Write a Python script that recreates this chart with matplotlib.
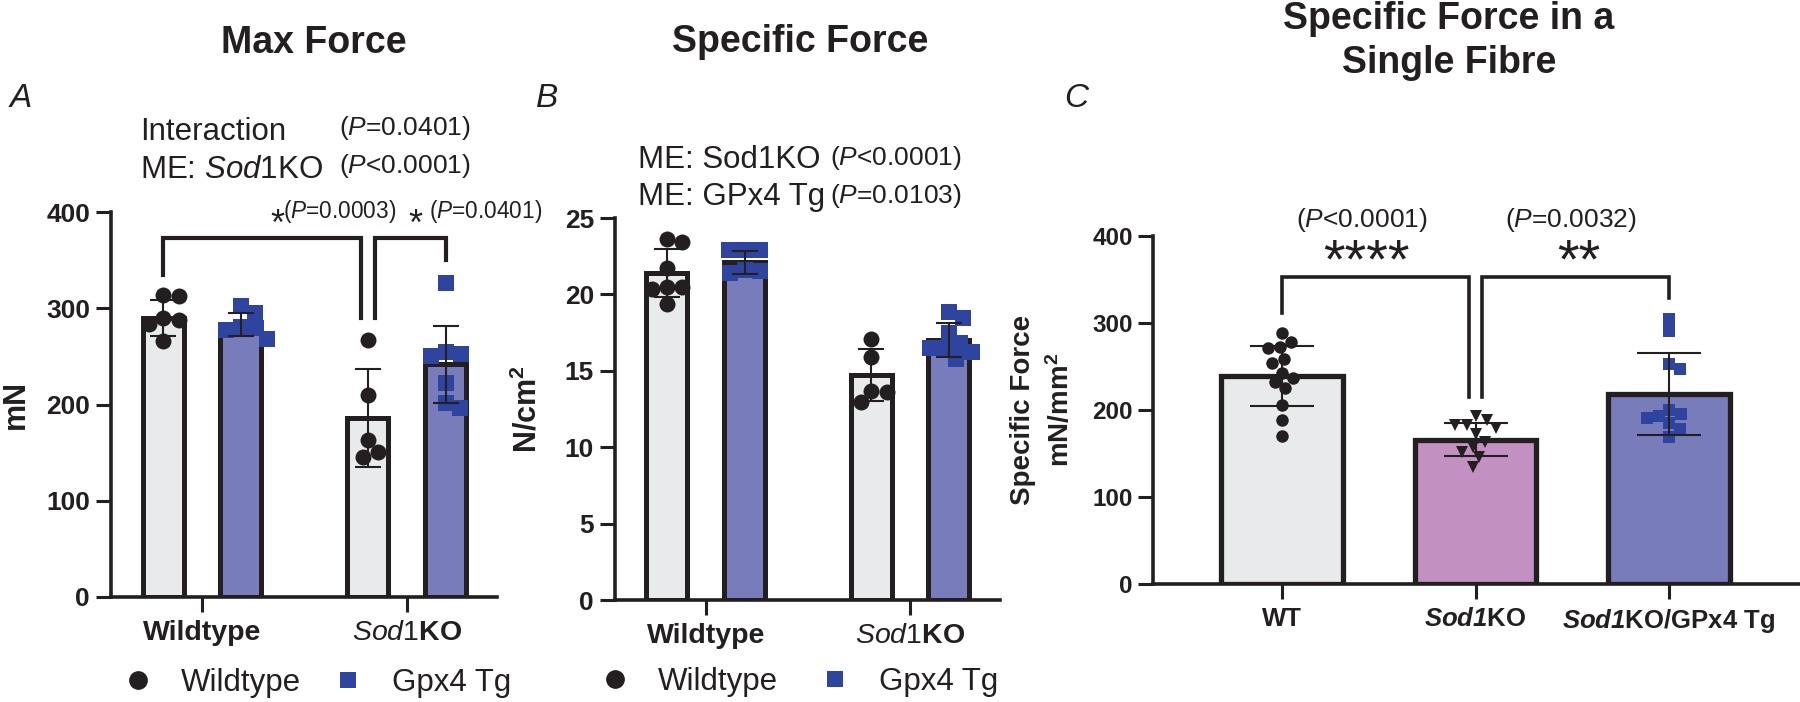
import numpy as np
import matplotlib.pyplot as plt
from matplotlib.lines import Line2D

plt.rcParams['font.family'] = ['Liberation Sans', 'DejaVu Sans']
plt.rcParams['mathtext.fontset'] = 'custom'
plt.rcParams['mathtext.rm'] = 'Liberation Sans'
plt.rcParams['mathtext.it'] = 'Liberation Sans:italic'
plt.rcParams['mathtext.bf'] = 'Liberation Sans:bold'
plt.rcParams['mathtext.bfit'] = 'Liberation Sans:italic:bold'

# ---- data ----
groups = ['Wildtype', r'$\mathit{Sod1}\mathbf{KO}$']
genotypes = ['Wildtype', 'Gpx4 Tg']

# A: max force, mN
max_wt_mean = [290, 186]
max_wt_sd = [19, 51]
max_gpx_mean = [283, 242]
max_gpx_sd = [12, 40]
max_wt_pts = [[314, 313, 290, 288, 284, 266], [267, 210, 163, 151, 145]]
max_gpx_pts = [[302, 295, 281, 279, 277, 268], [326, 255, 252, 250, 222, 202, 196]]
max_brackets = [(335, 373, 290), (290, 373, 350)]

# B: specific force, N/cm2
spec_wt_mean = [21.4, 14.7]
spec_wt_sd = [1.6, 1.7]
spec_gpx_mean = [22.1, 17.0]
spec_gpx_sd = [0.75, 1.1]
spec_wt_pts = [[23.6, 23.4, 21.7, 20.5, 20.5, 20.35, 19.4], [17.1, 15.9, 13.7, 13.6, 12.95]]
spec_gpx_pts = [[22.9, 22.9, 22.9, 21.6, 21.5, 21.4],
                [18.85, 18.45, 17.5, 16.8, 16.5, 16.5, 16.2, 15.8]]

# C: single fibre specific force, mN/mm2
fibre_labels = ['WT', r'$\mathbfit{Sod1}$KO', r'$\mathbfit{Sod1}$KO/GPx4 Tg']
fibre_mean = [239, 166, 218]
fibre_sd = [34.5, 18.5, 47]
fibre_pts = [[288, 278, 272, 271, 259, 254, 243, 237, 232, 225, 206, 189, 170],
             [193, 188, 183, 183, 179, 172, 163, 158, 152, 146, 134],
             [305, 291, 253, 247, 200, 195, 193, 191, 185, 178, 169]]
fibre_brackets = [(311, 353, 215), (215, 353, 329)]

INK = '#231f20'
GRAY = '#e9eaec'
PURPLE = '#797cba'
PINK = '#c291c1'
BLUE = '#2e449f'

W, H = 1800, 702
fig = plt.figure(figsize=(W / 100, H / 100), dpi=100)
fig.patch.set_facecolor('white')


def txt(x, y, s, **kw):
    return fig.text(x / W, 1 - y / H, s, color=INK, **kw)


def axes_px(l, t, r, b):
    return fig.add_axes([l / W, 1 - b / H, (r - l) / W, (b - t) / H])


def style(ax):
    ax.spines[['top', 'right']].set_visible(False)
    ax.spines[['left', 'bottom']].set_linewidth(2.6)
    ax.spines[['left', 'bottom']].set_color(INK)
    ax.tick_params(length=10.8, width=2.2, color=INK, labelcolor=INK)
    ax.tick_params(axis='y', pad=4.3)
    ax.tick_params(axis='x', pad=6)


def swarm(ax, xc, vals, size_px):
    # simple beeswarm in pixel space so markers don't overlap
    tr = ax.transData
    px = tr.transform(np.column_stack([np.full(len(vals), xc), vals]))
    x0, ys = px[0, 0], px[:, 1]
    steps = np.arange(0.5, 6 * size_px, 0.5)
    cands = np.concatenate([[0], np.column_stack([steps, -steps]).ravel()])
    placed, out = [], np.zeros(len(vals))
    for i in np.argsort(-np.asarray(vals)):
        for dx in cands:
            if all((dx - a) ** 2 + (ys[i] - b) ** 2 >= (0.95 * size_px) ** 2 for a, b in placed):
                break
        placed.append((dx, ys[i]))
        out[i] = x0 + dx
    return tr.inverted().transform(np.column_stack([out, ys]))[:, 0]


def dots(ax, xc, vals, marker, color, ms):
    xs = swarm(ax, xc, vals, ms * 100 / 72)
    ax.plot(xs, vals, ls='none', marker=marker, color=color, ms=ms, mew=0, zorder=3, clip_on=False)


def bracket(ax, x0, x1, ys, lw):
    y0, ytop, y1 = ys
    ax.plot([x0, x0, x1, x1], [y0, ytop, ytop, y1], color=INK, lw=lw,
            solid_joinstyle='miter', zorder=5, clip_on=False)


def grouped(ax, wt_mean, wt_sd, wt_pts, gpx_mean, gpx_sd, gpx_pts, top, step):
    x = np.arange(len(groups))
    ax.set_xlim(-0.444, 1.44)
    ax.set_ylim(0, top)
    style(ax)
    sets = [(-0.19, wt_mean, wt_sd, wt_pts, GRAY, 'o', INK),
            (0.19, gpx_mean, gpx_sd, gpx_pts, PURPLE, 's', BLUE)]
    for shift, mean, sd, pts, fill, mk, mc in sets:
        ax.bar(x + shift, mean, 0.2, color=fill, edgecolor=INK, linewidth=3.6, zorder=2)
        for xi, p in zip(x + shift, pts):
            dots(ax, xi, p, mk, mc, 11.5)
        ax.errorbar(x + shift, mean, yerr=sd, fmt='none', ecolor=INK, elinewidth=1.5,
                    capsize=9.5, capthick=1.5, zorder=4)
    ax.set_xticks(x, groups, fontsize=20.5, fontweight='bold')
    yt = np.arange(0, top + step / 2, step)
    ax.set_yticks(yt, [f'{v:g}' for v in yt], fontsize=19, fontweight='bold')


def legend(ax, x, y, colsp):
    handles = [Line2D([], [], ls='none', marker='o', color=INK, ms=13.5, mew=0),
               Line2D([], [], ls='none', marker='s', color=BLUE, ms=11, mew=0)]
    leg = ax.legend(handles, genotypes, ncol=2, frameon=False, fontsize=22.5, loc='center left',
                    bbox_to_anchor=(x / W, 1 - y / H), bbox_transform=fig.transFigure,
                    handlelength=0.8, handletextpad=1.0, columnspacing=colsp,
                    borderpad=0, borderaxespad=0)
    for t in leg.get_texts():
        t.set_color(INK)


# ---- A: Max Force ----
axA = axes_px(111, 212, 497, 597)
grouped(axA, max_wt_mean, max_wt_sd, max_wt_pts, max_gpx_mean, max_gpx_sd, max_gpx_pts, 400, 100)
gap = 0.034
bracket(axA, -0.19, 1 - 0.19 - gap, max_brackets[0], 3)
bracket(axA, 1 - 0.19 + gap, 1 + 0.19, max_brackets[1], 3)
legend(axA, 125, 683, 1.1)

txt(314, 53, 'Max Force', fontsize=27, fontweight='bold', ha='center', va='baseline')
txt(10, 107, 'A', fontsize=24, style='italic', ha='left', va='baseline')
txt(140, 140, 'Interaction', fontsize=22.5, ha='left', va='baseline')
txt(140, 178, r'ME: $\mathit{Sod1}$KO', fontsize=22.5, ha='left', va='baseline')
txt(339, 135, r'($\mathit{P}$=0.0401)', fontsize=19, ha='left', va='baseline')
txt(339, 173, r'($\mathit{P}$<0.0001)', fontsize=19, ha='left', va='baseline')
txt(270, 235, '*', fontsize=26, ha='left', va='baseline')
txt(283, 218, r'($\mathit{P}$=0.0003)', fontsize=16.3, ha='left', va='baseline')
txt(408, 235, '*', fontsize=26, ha='left', va='baseline')
txt(429, 218, r'($\mathit{P}$=0.0401)', fontsize=16.3, ha='left', va='baseline')
txt(16, 405, 'mN', fontsize=22, fontweight='bold', rotation=90, ha='center', va='center')

# ---- B: Specific Force ----
axB = axes_px(615, 218, 1000, 600)
grouped(axB, spec_wt_mean, spec_wt_sd, spec_wt_pts, spec_gpx_mean, spec_gpx_sd, spec_gpx_pts, 25, 5)
legend(axB, 602, 682, 1.42)

txt(800, 52, 'Specific Force', fontsize=27, fontweight='bold', ha='center', va='baseline')
txt(536, 107, 'B', fontsize=24, style='italic', ha='left', va='baseline')
txt(638, 168, 'ME: Sod1KO', fontsize=22.5, ha='left', va='baseline')
txt(638, 205, 'ME: GPx4 Tg', fontsize=22.5, ha='left', va='baseline')
txt(830, 165, r'($\mathit{P}$<0.0001)', fontsize=19, ha='left', va='baseline')
txt(830, 203, r'($\mathit{P}$=0.0103)', fontsize=19, ha='left', va='baseline')
txt(528, 409, r'N/cm$^{\mathbf{2}}$', fontsize=22, fontweight='bold', rotation=90, ha='center', va='center')

# ---- C: Specific force in a single fibre ----
axC = axes_px(1153, 236, 1800, 584)
axC.set_xlim(-0.667, 2.677)
axC.set_ylim(0, 400)
style(axC)
axC.tick_params(axis='y', pad=3.6)
xc = np.arange(len(fibre_labels))
axC.bar(xc, fibre_mean, 0.63, color=[GRAY, PINK, PURPLE], edgecolor=INK, linewidth=3.8, zorder=2)
for xi, p, mk, mc in zip(xc, fibre_pts, ['o', 'v', 's'], [INK, INK, BLUE]):
    dots(axC, xi, p, mk, mc, 9)
axC.errorbar(xc, fibre_mean, yerr=fibre_sd, fmt='none', ecolor=INK, elinewidth=1.5,
             capsize=23, capthick=1.5, zorder=4)
axC.set_xticks(xc, fibre_labels, fontsize=18.5, fontweight='bold')
axC.set_yticks(np.arange(0, 401, 100), ['0', '100', '200', '300', '400'], fontsize=17.5, fontweight='bold')
gapc = 0.036
bracket(axC, 0, 1 - gapc, fibre_brackets[0], 2.6)
bracket(axC, 1 + gapc, 2, fibre_brackets[1], 2.6)

txt(1449, 73, 'Specific Force in a\nSingle Fibre', fontsize=27, fontweight='bold',
    ha='center', va='baseline', linespacing=1.28)
txt(1064, 107, 'C', fontsize=24, style='italic', ha='left', va='baseline')
txt(1362, 227, r'($\mathit{P}$<0.0001)', fontsize=19, ha='center', va='baseline')
txt(1571, 227, r'($\mathit{P}$=0.0032)', fontsize=19, ha='center', va='baseline')
txt(1366, 277, '****', fontsize=40, ha='center', va='baseline')
txt(1579, 277, '**', fontsize=40, ha='center', va='baseline')
txt(1023, 410, 'Specific Force', fontsize=20, fontweight='bold', rotation=90, ha='center', va='center')
txt(1061, 410, r'mN/mm$^{\mathbf{2}}$', fontsize=20, fontweight='bold', rotation=90, ha='center', va='center')

fig.savefig('out.png', dpi=100)
